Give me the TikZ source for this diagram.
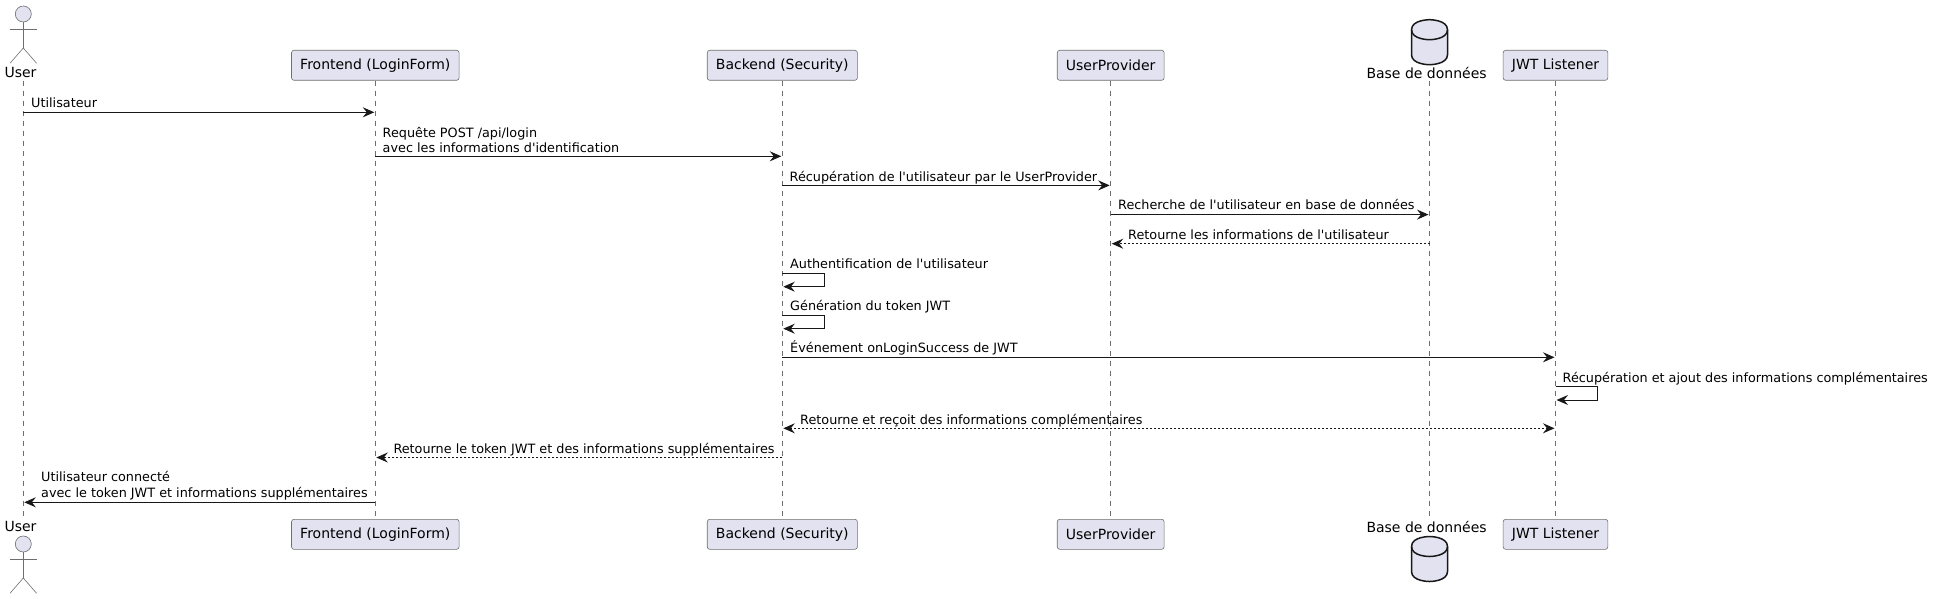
\documentclass[tikz,border=0pt]{standalone}
\usepackage{fontspec}
\newfontfamily\plantfont{DejaVu Sans}
\usetikzlibrary{arrows.meta}
\definecolor{partfill}{HTML}{E2E2F0}
\definecolor{partline}{HTML}{181818}
\definecolor{thinline}{HTML}{6E6E6E}
\tikzset{
	partbox/.style={draw=thinline, fill=partfill, line width=0.6pt, rounded corners=2.5pt, minimum height=30pt, inner xsep=8.7pt, inner ysep=0pt, font=\plantfont\fontsize{14}{16}\selectfont},
	partlabel/.style={inner sep=0pt, font=\plantfont\fontsize{14}{16}\selectfont},
	lifeline/.style={draw=thinline, line width=0.6pt, dash pattern=on 5pt off 5pt},
	msgtip/.style={-{Stealth[length=11.5pt,width=10pt,inset=4pt]}},
	msgline/.style={draw=partline, line width=1pt, msgtip, shorten >=1pt},
	msgdash/.style={msgline, dash pattern=on 2pt off 2pt},
	msgtext/.style={anchor=base west, inner sep=0pt, align=left, font=\plantfont\fontsize{12.8}{15.15}\selectfont},
}
\begin{document}
\begin{tikzpicture}[x=1pt,y=-1pt]
\useasboundingbox (0,0) rectangle (1934,599);

% lifeline ends without a box
\coordinate (user-a) at (23.3,80.7);
\coordinate (user-b) at (23.3,516);
\coordinate (db-a) at (1429.5,80.7);
\coordinate (db-b) at (1429.5,516);

\foreach \nm/\x/\txt in {fe/375.3/Frontend (LoginForm), be/782.3/Backend (Security), up/1110.7/UserProvider, jwt/1555.5/JWT Listener} {
	\node[partbox] (\nm-top) at (\x,65.3) {\txt};
	\node[partbox] (\nm-bot) at (\x,534.3) {\txt};
	\draw[lifeline] (\nm-top) -- (\nm-bot);
}
\draw[lifeline] (user-a) -- (user-b);
\draw[lifeline] (db-a) -- (db-b);

\node[partlabel] (user-top) at (20.5,72.7) {User};
\node[partlabel] (user-bot) at (20.5,526.7) {User};
\node[partlabel] (db-top) at (1426.6,72.7) {Base de données};
\node[partlabel] (db-bot) at (1426.6,526.7) {Base de données};

% actor
\foreach \y in {0,530} {
	\begin{scope}[shift={(23.3,\y)}, draw=thinline, line width=0.6pt]
		\draw[fill=partfill] (0,14) circle (8pt);
		\draw (0,22) -- (0,48);
		\draw (-13.3,29) -- (13.3,29);
		\draw (-13.3,63.3) -- (0,48) -- (13.3,63.3);
	\end{scope}
}

% database
\foreach \y in {19.7,536.5} {
	\begin{scope}[shift={(1411.5,\y)}, draw=partline, line width=1.5pt]
		\draw[fill=partfill] (0,10) .. controls (0,0) and (18,0) .. (18,0) .. controls (18,0) and (36,0) .. (36,10) -- (36,35) .. controls (36,45) and (18,45) .. (18,45) .. controls (18,45) and (0,45) .. (0,35) -- cycle;
		\draw (0,10) .. controls (0,20) and (18,20) .. (18,20) .. controls (18,20) and (36,20) .. (36,10);
	\end{scope}
}

% messages
\draw[msgline] (user-a |- 0,112.3) -- (fe-top |- 0,112.3);
\node[msgtext] (txt1) at (31,107.3) {Utilisateur};

\draw[msgline] (fe-top |- 0,156.3) -- (be-top |- 0,156.3);
\node[msgtext, anchor=south west] (txt2) at (382.5,153) {Requête POST /api/login\\avec les informations d'identification};

\draw[msgline] (be-top |- 0,185.4) -- (up-top |- 0,185.4);
\node[msgtext] (txt3) at (789.5,181.4) {Récupération de l'utilisateur par le UserProvider};

\draw[msgline] (up-top |- 0,214.6) -- (db-a |- 0,214.6);
\node[msgtext] (txt4) at (1118,209.6) {Recherche de l'utilisateur en base de données};

\draw[msgdash] (db-a |- 0,243.7) -- (up-top |- 0,243.7);
\node[msgtext] (txt5) at (1128,239.7) {Retourne les informations de l'utilisateur};

\draw[msgline] (be-top |- 0,273.3) -| (824.3,286.7) -- (be-top |- 0,286.7);
\node[msgtext] (txt6) at (790,268.3) {Authentification de l'utilisateur};

\draw[msgline] (be-top |- 0,315.3) -| (824.3,328.7) -- (be-top |- 0,328.7);
\node[msgtext] (txt7) at (790,310.3) {Génération du token JWT};

\draw[msgline] (be-top |- 0,357.3) -- (jwt-top |- 0,357.3);
\node[msgtext] (txt8) at (790,352.3) {Événement onLoginSuccess de JWT};

\draw[msgline] (jwt-top |- 0,386.7) -| (1597.5,400) -- (jwt-top |- 0,400);
\node[msgtext] (txt9) at (1562.5,382.7) {Récupération et ajout des informations complémentaires};

\draw[msgdash, {Stealth[length=11.5pt,width=10pt,inset=4pt]}-{Stealth[length=11.5pt,width=10pt,inset=4pt]}, shorten <=1pt] (be-top |- 0,428.3) -- (jwt-top |- 0,428.3);
\node[msgtext] (txt10) at (800,424.3) {Retourne et reçoit des informations complémentaires};

\draw[msgdash] (be-top |- 0,457.5) -- (fe-top |- 0,457.5);
\node[msgtext] (txt11) at (393.3,453.5) {Retourne le token JWT et des informations supplémentaires};

\draw[msgline] (fe-top |- 0,502.3) -- (user-a |- 0,502.3);
\node[msgtext, anchor=south west] (txt12) at (41,500) {Utilisateur connecté\\avec le token JWT et informations supplémentaires};
\end{tikzpicture}
\end{document}
